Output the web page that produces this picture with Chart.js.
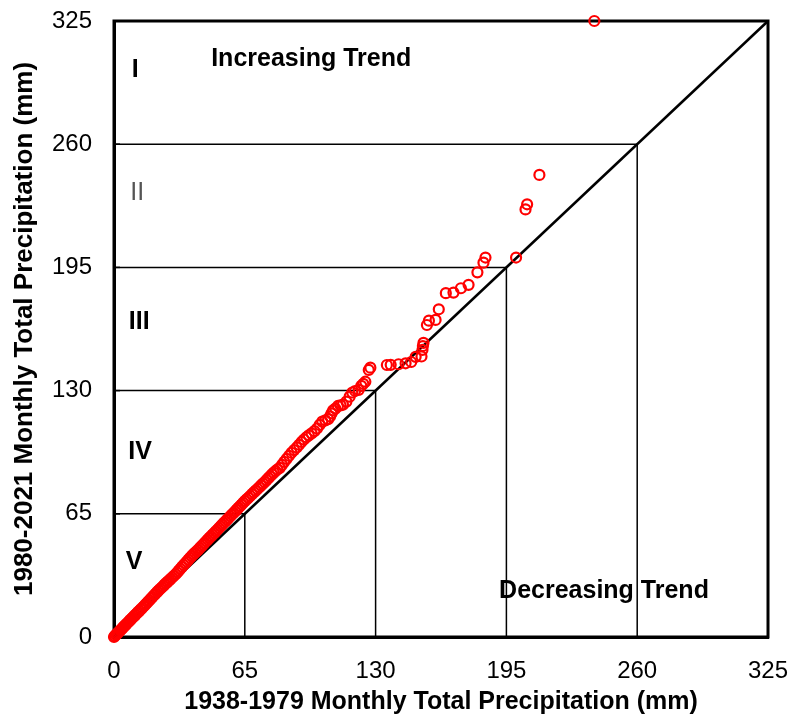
<!DOCTYPE html>
<html>
<head>
<meta charset="utf-8">
<script src="https://cdn.jsdelivr.net/npm/chart.js@4"></script>
<style>
  body { margin: 0; background: #fff; }
</style>
</head>
<body>
<canvas id="qqChart" width="792" height="717"></canvas>
<script>
// Q-Q pairs (sorted monthly totals, mm)
const histPrecip = [
  0, 0.4, 0.9, 1.4, 1.9, 2.5, 3.1, 3.7, 4.3, 4.9, 5.5, 6.1, 6.8, 7.4, 8.0, 8.7, 9.3, 10.0, 10.6, 11.3,
  11.9, 12.6, 13.3, 14.0, 14.7, 15.4, 16.1, 16.9, 17.6, 18.4, 19.1, 19.9, 20.6, 21.4, 22.1, 22.9, 23.6, 24.4, 25.1, 25.9,
  26.6, 27.4, 28.2, 29.0, 29.8, 30.6, 31.4, 32.2, 33.0, 33.8, 34.6, 35.4, 36.2, 37.0, 37.8, 38.6, 39.4, 40.2, 41.0, 41.8,
  42.6, 43.4, 44.2, 45.0, 45.8, 46.6, 47.4, 48.2, 49.0, 49.8, 50.6, 51.4, 52.2, 53.0, 53.8, 54.6, 55.4, 56.2, 57.0, 57.8,
  58.6, 59.4, 60.2, 61.0, 61.8, 62.6, 63.4, 64.2, 65.0, 65.9, 66.8, 67.7, 68.6, 69.5, 70.4, 71.3, 72.2, 73.1, 74.0, 74.9,
  75.8, 76.7, 77.6, 78.5, 79.4, 80.3, 81.2, 82.4, 83.5, 84.6, 85.8, 87.0, 88.2, 89.5, 90.8, 92.0, 93.2, 94.4, 95.6, 96.8,
  98.2, 99.6, 100.9, 102.2, 103.5, 105.0, 106.4, 107.4, 108.1, 108.9, 110.0, 111.3, 112.6, 113.8, 115.5, 117.1, 118.4, 119.8, 121.6, 122.9,
  123.9, 124.9, 126.6, 127.4, 135.6, 137.5, 141.4, 144.9, 147.7, 149.9, 152.8, 153.3, 153.5, 153.8, 155.5, 156.5, 159.8, 161.4, 164.9, 168.7,
  172.4, 176.2, 180.6, 183.6, 184.6, 199.8, 204.5, 205.3, 211.4, 238.7
];
const recentPrecip = [
  0, 0.5, 1.1, 1.6, 2.2, 2.8, 3.5, 4.1, 4.8, 5.5, 6.1, 6.8, 7.5, 8.2, 8.9, 9.6, 10.3, 11.0, 11.7, 12.4,
  13.1, 13.8, 14.6, 15.3, 16.1, 16.9, 17.7, 18.6, 19.4, 20.3, 21.1, 22.0, 22.8, 23.7, 24.5, 25.3, 26.0, 26.8, 27.6, 28.4,
  29.1, 29.9, 30.7, 31.5, 32.3, 33.1, 34.0, 35.0, 36.0, 37.0, 38.0, 38.9, 39.8, 40.8, 41.8, 42.7, 43.6, 44.4, 45.2, 46.0,
  46.9, 47.8, 48.7, 49.6, 50.5, 51.4, 52.3, 53.1, 54.0, 54.8, 55.7, 56.6, 57.5, 58.4, 59.3, 60.2, 61.0, 61.9, 62.8, 63.7,
  64.6, 65.4, 66.3, 67.2, 68.1, 69.0, 69.9, 70.8, 71.7, 72.6, 73.5, 74.4, 75.4, 76.3, 77.2, 78.1, 79.0, 80.0, 80.9, 81.8,
  82.8, 83.8, 84.8, 85.8, 86.7, 87.6, 88.4, 89.2, 90.8, 92.4, 94.0, 95.6, 97.2, 98.6, 100.0, 101.4, 102.9, 104.2, 105.4, 106.4,
  107.4, 108.6, 110.0, 111.9, 113.6, 114.3, 114.9, 116.4, 118.0, 119.6, 120.5, 121.9, 122.2, 122.6, 124.2, 126.8, 129.0, 129.8, 130.4, 132.5,
  133.6, 134.7, 140.9, 142.1, 143.5, 143.6, 143.9, 144.4, 145.1, 147.8, 148.0, 151.5, 153.5, 155.2, 164.6, 166.9, 167.3, 172.9, 181.4, 181.7,
  184.0, 185.8, 192.4, 197.5, 200.2, 200.2, 225.6, 228.3, 243.8, 325.0
];

const axisMin = 0;
const axisMax = 325;
const tickStep = 65;
const zoneLevels = [65, 130, 195, 260];

// text placed in data units
const zoneLabels = [
  { text: 'I', x: 10.5, y: 299, bold: true },
  { text: 'II', x: 11.5, y: 234, bold: false },
  { text: 'III', x: 12.5, y: 166, bold: true },
  { text: 'IV', x: 13, y: 97.5, bold: true },
  { text: 'V', x: 10, y: 39.5, bold: true },
  { text: 'Increasing Trend', x: 98, y: 305, bold: true },
  { text: 'Decreasing Trend', x: 243.5, y: 24, bold: true }
];

const FONT = "'Liberation Sans', Arial, sans-serif";

const points = histPrecip.map((v, i) => ({ x: v, y: recentPrecip[i] }));

const datasets = [{
  type: 'scatter',
  data: points,
  pointRadius: 5,
  pointBorderWidth: 2.2,
  pointBorderColor: '#ff0000',
  pointBackgroundColor: 'rgba(0,0,0,0)',
  clip: false
}, {
  type: 'line',
  data: [{ x: axisMin, y: axisMin }, { x: axisMax, y: axisMax }],
  borderColor: '#000',
  borderWidth: 2.5,
  pointRadius: 0,
  clip: false
}];

zoneLevels.forEach(l => {
  datasets.push({
    type: 'line',
    data: [{ x: axisMin, y: l }, { x: l, y: l }, { x: l, y: axisMin }],
    borderColor: '#000',
    borderWidth: 1.5,
    pointRadius: 0
  });
});

const framePlugin = {
  id: 'frame',
  beforeDatasetsDraw(chart) {
    const { ctx, chartArea: a, scales } = chart;
    ctx.save();
    ctx.strokeStyle = '#000';
    ctx.lineWidth = 3;
    ctx.strokeRect(a.left, a.top, a.right - a.left, a.bottom - a.top);
    // short inward ticks on the y axis
    ctx.lineWidth = 1.5;
    scales.y.ticks.forEach(t => {
      const py = scales.y.getPixelForValue(t.value);
      ctx.beginPath();
      ctx.moveTo(a.left, py);
      ctx.lineTo(a.left + 6, py);
      ctx.stroke();
    });
    ctx.restore();
  },
  afterDraw(chart) {
    const { ctx, scales } = chart;
    ctx.save();
    ctx.textAlign = 'center';
    ctx.textBaseline = 'middle';
    zoneLabels.forEach(lb => {
      ctx.font = (lb.bold ? 'bold ' : '') + '25px ' + FONT;
      ctx.fillStyle = lb.bold ? '#000' : '#555';
      ctx.fillText(lb.text, scales.x.getPixelForValue(lb.x), scales.y.getPixelForValue(lb.y));
    });
    ctx.restore();
  }
};

new Chart(document.getElementById('qqChart'), {
  data: { datasets: datasets },
  options: {
    responsive: false,
    animation: false,
    layout: { padding: { top: 21, right: 24, left: 0, bottom: 0 } },
    plugins: {
      legend: { display: false },
      tooltip: { enabled: false }
    },
    scales: {
      x: {
        type: 'linear',
        min: axisMin,
        max: axisMax,
        grid: { display: false, drawTicks: false },
        border: { display: true, color: '#000', width: 3 },
        ticks: {
          stepSize: tickStep,
          padding: 20,
          color: '#000',
          font: { family: FONT, size: 24 }
        },
        title: {
          display: true,
          text: '1938-1979 Monthly Total Precipitation (mm)',
          color: '#000',
          padding: { top: 0, bottom: 0 },
          font: { family: FONT, size: 25, weight: 'bold' }
        },
        afterFit: (scale) => {
          scale.height = 80;
          scale.paddingLeft = 0;
          scale.paddingRight = 0;
        }
      },
      y: {
        type: 'linear',
        min: axisMin,
        max: axisMax,
        grid: { display: false, drawTicks: false },
        border: { display: true, color: '#000', width: 3 },
        ticks: {
          stepSize: tickStep,
          padding: 22,
          color: '#000',
          font: { family: FONT, size: 24 }
        },
        title: {
          display: true,
          text: '1980-2021 Monthly Total Precipitation (mm)',
          color: '#000',
          padding: { top: 9, bottom: 0 },
          font: { family: FONT, size: 26, weight: 'bold' }
        },
        afterFit: (scale) => {
          scale.width = 114;
          scale.paddingTop = 0;
          scale.paddingBottom = 0;
        }
      }
    }
  },
  plugins: [framePlugin]
});
</script>
</body>
</html>
